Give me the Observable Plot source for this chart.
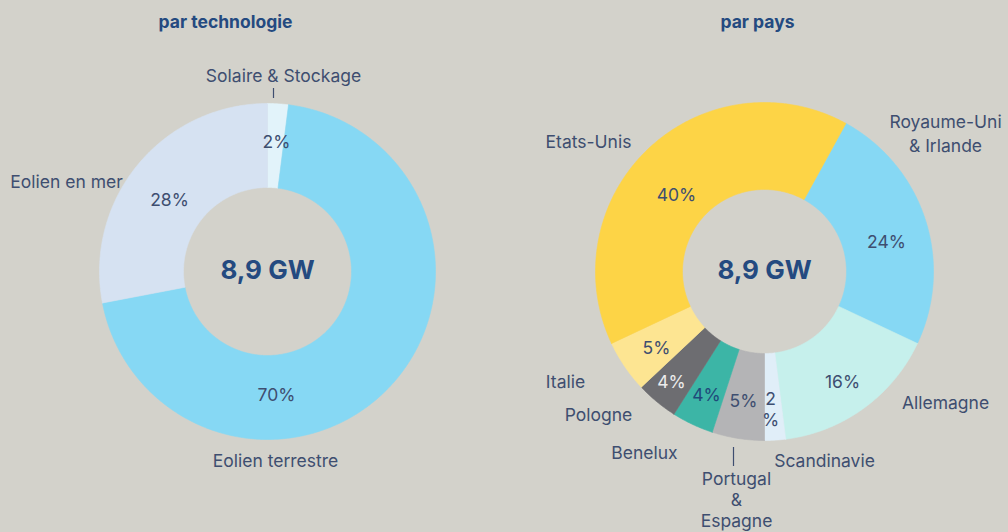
<!DOCTYPE html>
<html><head><meta charset="utf-8">
<script src="https://cdn.jsdelivr.net/npm/d3@7"></script>
<script src="https://cdn.jsdelivr.net/npm/@observablehq/plot@0.6"></script>
<style>
html,body{margin:0;padding:0;background:#d3d2cb;}
#chart svg{display:block;}
</style></head>
<body><div id="chart"></div>
<script>
// ---- data ----
const techCategories = ["Solaire & Stockage", "Eolien terrestre", "Eolien en mer"];
const techValues = [2, 70, 28];
const techPctLabels = ["2%", "70%", "28%"];
const countryCategories = ["Royaume-Uni & Irlande", "Allemagne", "Scandinavie", "Portugal & Espagne", "Benelux", "Pologne", "Italie", "Etats-Unis"];
const countryValues = [24, 16, 2, 5, 4, 4, 5, 40];
const countryPctLabels = ["24%", "16%", "2\n%", "5%", "4%", "4%", "5%", "40%"];
const totalLabel = "8,9 GW";
const subtitles = ["par technologie", "par pays"];

// ---- styles / layout ----
const techColors = ["#e2f3fa", "#86d8f4", "#d6e2f2"];
const countryColors = ["#86d8f4", "#c6f0ec", "#e0eef8", "#b4b4b6", "#3cb5a6", "#6d6d71", "#fde592", "#fdd446"];
const textColor = "#3e4e70";
const titleColor = "#244a80";
const W = 1008, H = 532;
const donuts = [
  {cx: 267, cy: 271, r0: 84, r1: 168, start: 0, values: techValues, cats: techCategories, colors: techColors},
  {cx: 764, cy: 271, r0: 82, r1: 169, start: 28.8, values: countryValues, cats: countryCategories, colors: countryColors}
];
const catLabelPos = {
  "Solaire & Stockage": [283, 74, "Solaire & Stockage"],
  "Eolien terrestre": [275, 459, "Eolien terrestre"],
  "Eolien en mer": [66, 180, "Eolien en mer"],
  "Etats-Unis": [588, 140, "Etats-Unis"],
  "Royaume-Uni & Irlande": [945, 132, "Royaume-Uni\n& Irlande"],
  "Allemagne": [945, 401, "Allemagne"],
  "Scandinavie": [824, 459, "Scandinavie"],
  "Benelux": [644, 451, "Benelux"],
  "Pologne": [598, 413, "Pologne"],
  "Italie": [565, 380, "Italie"]
};
const stackedLabelPos = {"Portugal & Espagne": [736, 499, "Portugal\n&\nEspagne"]};
const pctPos = [
  [[276, 140], [276, 393], [169, 198]],
  [[886, 240], [842, 380], [770, 408], [743, 399], [706, 393], [671, 380], [656, 346], [676, 193]]
];
const pctColors = [
  [textColor, textColor, textColor],
  [textColor, textColor, textColor, textColor, "#1f4a7a", "#ececec", textColor, textColor]
];

// ---- build slice polygons from values ----
const slicePts = [];
donuts.forEach((d, di) => {
  const s = d.start * Math.PI / 180;
  const arcs = d3.pie().sort(null).startAngle(s).endAngle(s + 2 * Math.PI)(d.values);
  arcs.forEach((a, i) => {
    const key = di + "-" + i;
    const n = Math.max(2, Math.ceil((a.endAngle - a.startAngle) / (Math.PI / 360)) + 1);
    const pts = [];
    for (let k = 0; k < n; k++) {
      const t = a.startAngle + (a.endAngle - a.startAngle) * k / (n - 1);
      pts.push([d.cx + d.r1 * Math.sin(t), d.cy - d.r1 * Math.cos(t)]);
    }
    for (let k = n - 1; k >= 0; k--) {
      const t = a.startAngle + (a.endAngle - a.startAngle) * k / (n - 1);
      pts.push([d.cx + d.r0 * Math.sin(t), d.cy - d.r0 * Math.cos(t)]);
    }
    pts.push(pts[0]);
    pts.forEach(p => slicePts.push({x: p[0], y: p[1], key, color: d.colors[i], cat: d.cats[i]}));
  });
});

const catLabels = Object.values(catLabelPos).map(([x, y, text]) => ({x, y, text}));
const stackedLabels = Object.values(stackedLabelPos).map(([x, y, text]) => ({x, y, text}));
const pctLabels = [];
[techPctLabels, countryPctLabels].forEach((arr, di) => arr.forEach((t, i) => {
  pctLabels.push({x: pctPos[di][i][0], y: pctPos[di][i][1], text: t, color: pctColors[di][i]});
}));
const centers = donuts.map(d => ({x: d.cx, y: d.cy - 1, text: totalLabel}));
const subs = [{x: 225, y: 22, text: subtitles[0]}, {x: 757, y: 22, text: subtitles[1]}];
const ticks = [{x: 273, y1: 88, y2: 98}, {x: 733, y1: 447, y2: 466}];

const font = "Inter, Lato, sans-serif";
const chart = Plot.plot({
  width: W, height: H,
  margin: 0,
  style: {background: "#d3d2cb", fontFamily: font},
  x: {domain: [0, W], range: [0, W], axis: null},
  y: {domain: [0, H], range: [0, H], axis: null},
  marks: [
    Plot.line(slicePts, {x: "x", y: "y", z: "key", fill: "color", stroke: "color", strokeWidth: 0.6, curve: "linear"}),
    Plot.ruleX(ticks, {x: "x", y1: "y1", y2: "y2", stroke: textColor, strokeWidth: 1.2}),
    Plot.text(catLabels, {x: "x", y: "y", text: "text", fill: textColor, fontSize: 17.5, lineHeight: 1.34}),
    Plot.text(stackedLabels, {x: "x", y: "y", text: "text", fill: textColor, fontSize: 17.5, lineHeight: 1.2}),
    Plot.text(pctLabels, {x: "x", y: "y", text: "text", fill: "color", fontSize: 17.5, lineHeight: 1.25}),
    Plot.text(centers, {x: "x", y: "y", text: "text", fill: titleColor, fontSize: 26, fontWeight: 700}),
    Plot.text(subs, {x: "x", y: "y", text: "text", fill: titleColor, fontSize: 17.5, fontWeight: 700})
  ]
});
document.getElementById("chart").appendChild(chart);
</script></body></html>
